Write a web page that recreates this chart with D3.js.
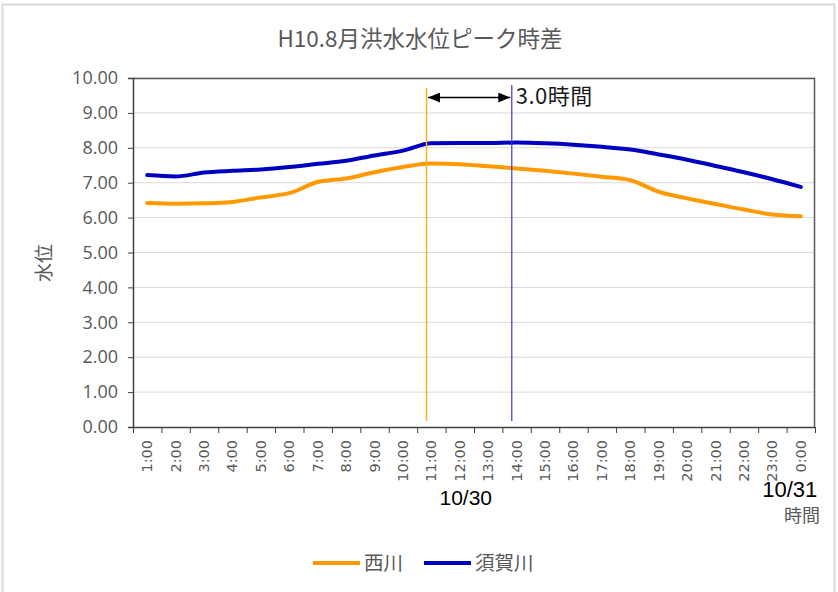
<!DOCTYPE html>
<html>
<head>
<meta charset="utf-8">
<script src="https://cdn.jsdelivr.net/npm/d3@7"></script>
<style>
  html, body { margin: 0; padding: 0; background: #ffffff; }
  svg { display: block; }
</style>
</head>
<body>
<svg id="chart" width="838" height="592"></svg>
<script>
// Hourly water levels (m), 10/30 1:00 through 10/31 0:00
const hours = d3.range(1, 25);
const hourLabels = hours.map(h => (h % 24) + ":00");
const nishiLevels = [6.42, 6.40, 6.41, 6.45, 6.58, 6.70, 7.02, 7.12, 7.30, 7.45, 7.55, 7.53,
                     7.47, 7.41, 7.34, 7.26, 7.17, 7.07, 6.74, 6.55, 6.39, 6.23, 6.09, 6.04];
const sugaLevels  = [7.22, 7.18, 7.29, 7.34, 7.38, 7.45, 7.54, 7.63, 7.78, 7.92, 8.13, 8.14,
                     8.14, 8.15, 8.13, 8.09, 8.03, 7.95, 7.81, 7.66, 7.48, 7.30, 7.10, 6.88];
const yTicks = [0, 1, 2, 3, 4, 5, 6, 7, 8, 9, 10];
const seriesNames = ["西川", "須賀川"];
const seriesColors = ["#ff9900", "#0000c0"];
// Peak times (hours) of each river
const peakTimes = [10.83, 13.83];
const dateLabels = ["10/30", "10/31"];

const svg = d3.select("#chart");
const font = "'Noto Sans CJK JP', 'Noto Sans', sans-serif";
const grey = "#595959";

// Outer chart frame
svg.append("rect").attr("x", 2.5).attr("y", 4.5).attr("width", 832).attr("height", 600)
  .attr("fill", "#fff").attr("stroke", "#d9d9d9").attr("stroke-width", 2);

const m = { left: 133, top: 78, right: 815, bottom: 427 };
const W = m.right - m.left, H = m.bottom - m.top;
const g = svg.append("g").attr("transform", `translate(${m.left},${m.top})`);

const x = d3.scaleLinear().domain([0.5, 24.5]).range([0, W]);
const y = d3.scaleLinear().domain([0, 10]).range([H, 0]);

// Title
svg.append("text").attr("x", 420).attr("y", 47).attr("text-anchor", "middle")
  .attr("font-family", font).attr("font-size", 22.5).attr("fill", grey)
  .text("H10.8月洪水水位ピーク時差");

// Gridlines
g.append("g").selectAll("line").data(yTicks.slice(1)).join("line")
  .attr("x1", 0).attr("x2", W).attr("y1", d => y(d)).attr("y2", d => y(d))
  .attr("stroke", "#d9d9d9").attr("stroke-width", 1);

// Plot frame (top and right)
g.append("path").attr("d", `M0,0.5H${W - 0.5}V${H}`).attr("fill", "none")
  .attr("stroke", "#595959").attr("stroke-width", 1.5);

// Y axis
const yAxis = g.append("g").call(d3.axisLeft(y).tickValues(yTicks).tickFormat(d3.format(".2f")).tickSize(5).tickPadding(10));
yAxis.select(".domain").attr("stroke", "#404040").attr("stroke-width", 1.5);
yAxis.selectAll(".tick line").attr("stroke", "#404040");
yAxis.selectAll("text").attr("font-family", "'Open Sans', 'DejaVu Sans', sans-serif")
  .attr("font-size", 18).attr("fill", grey);

// X axis: ticks between hours, labels at hour centres
const xAxis = g.append("g").attr("transform", `translate(0,${H})`)
  .call(d3.axisBottom(x).tickValues(d3.range(0.5, 25, 1)).tickFormat("").tickSize(6).tickSizeOuter(0));
xAxis.select(".domain").attr("stroke", "#404040").attr("stroke-width", 1.5);
xAxis.selectAll(".tick line").attr("stroke", "#404040");

g.append("g").selectAll("text").data(hours).join("text")
  .attr("transform", (d) => `translate(${x(d) + 5},${H + 13}) rotate(-90)`)
  .attr("text-anchor", "end")
  .attr("font-family", "'DejaVu Sans', sans-serif").attr("font-size", 14.5).attr("fill", grey)
  .text((d, i) => hourLabels[i]);

// Y axis title
svg.append("text").attr("transform", "translate(51,263) rotate(-90)").attr("text-anchor", "middle")
  .attr("font-family", font).attr("font-size", 19).attr("fill", grey).text("水位");

// Date labels and x axis title
svg.append("text").attr("x", x(12) + m.left + 6).attr("y", 505).attr("text-anchor", "middle")
  .attr("font-family", "'Liberation Sans', Arial, sans-serif").attr("font-size", 21).attr("fill", "#000")
  .text(dateLabels[0]);
svg.append("text").attr("x", x(24) + m.left - 11).attr("y", 497).attr("text-anchor", "middle")
  .attr("font-family", "'Liberation Sans', Arial, sans-serif").attr("font-size", 22).attr("fill", "#000")
  .text(dateLabels[1]);
svg.append("text").attr("x", 802).attr("y", 522).attr("text-anchor", "middle")
  .attr("font-family", font).attr("font-size", 18).attr("fill", grey).text("時間");

// Series lines
const line = d3.line().x((d, i) => x(hours[i])).y(d => y(d)).curve(d3.curveMonotoneX);
[nishiLevels, sugaLevels].forEach((vals, k) => {
  g.append("path").datum(vals).attr("d", line).attr("fill", "none")
    .attr("stroke", seriesColors[k]).attr("stroke-width", 4)
    .attr("stroke-linejoin", "round").attr("stroke-linecap", "round");
});

// Peak markers
const peakTop = [10, 7];
const peakColors = ["#f5b324", "#3a3ad0"];
peakTimes.forEach((t, k) => {
  g.append("line").attr("x1", x(t)).attr("x2", x(t)).attr("y1", peakTop[k]).attr("y2", H - 6)
    .attr("stroke", peakColors[k]).attr("stroke-width", k === 0 ? 1.5 : 1.2);
});

// Double-headed arrow between peaks
const defs = svg.append("defs");
defs.append("marker").attr("id", "head").attr("viewBox", "0 0 12 10")
  .attr("refX", 12).attr("refY", 5).attr("markerWidth", 12).attr("markerHeight", 10)
  .attr("markerUnits", "userSpaceOnUse").attr("orient", "auto-start-reverse")
  .append("path").attr("d", "M0,0L12,5L0,10Z").attr("fill", "#000");
const arrowY = 19.5;
g.append("line").attr("x1", x(peakTimes[0]) + 1.5).attr("x2", x(peakTimes[1]) - 1.5)
  .attr("y1", arrowY).attr("y2", arrowY)
  .attr("stroke", "#000").attr("stroke-width", 1.3)
  .attr("marker-start", "url(#head)").attr("marker-end", "url(#head)");
g.append("text").attr("x", x(peakTimes[1]) + 4).attr("y", arrowY + 6)
  .attr("font-family", font).attr("font-size", 22)
  .attr("letter-spacing", 0.5).attr("fill", "#1a1a1a")
  .text(d3.format(".1f")(peakTimes[1] - peakTimes[0]) + "時間");

// Legend
const legend = svg.append("g").attr("transform", "translate(313,563)");
const legendX = [0, 111];
seriesNames.forEach((name, k) => {
  legend.append("line").attr("x1", legendX[k]).attr("x2", legendX[k] + 47).attr("y1", 0).attr("y2", 0)
    .attr("stroke", seriesColors[k]).attr("stroke-width", 4);
  legend.append("text").attr("x", legendX[k] + 51).attr("y", 7)
    .attr("font-family", font).attr("font-size", 19.5).attr("fill", grey).text(name);
});
</script>
</body>
</html>
